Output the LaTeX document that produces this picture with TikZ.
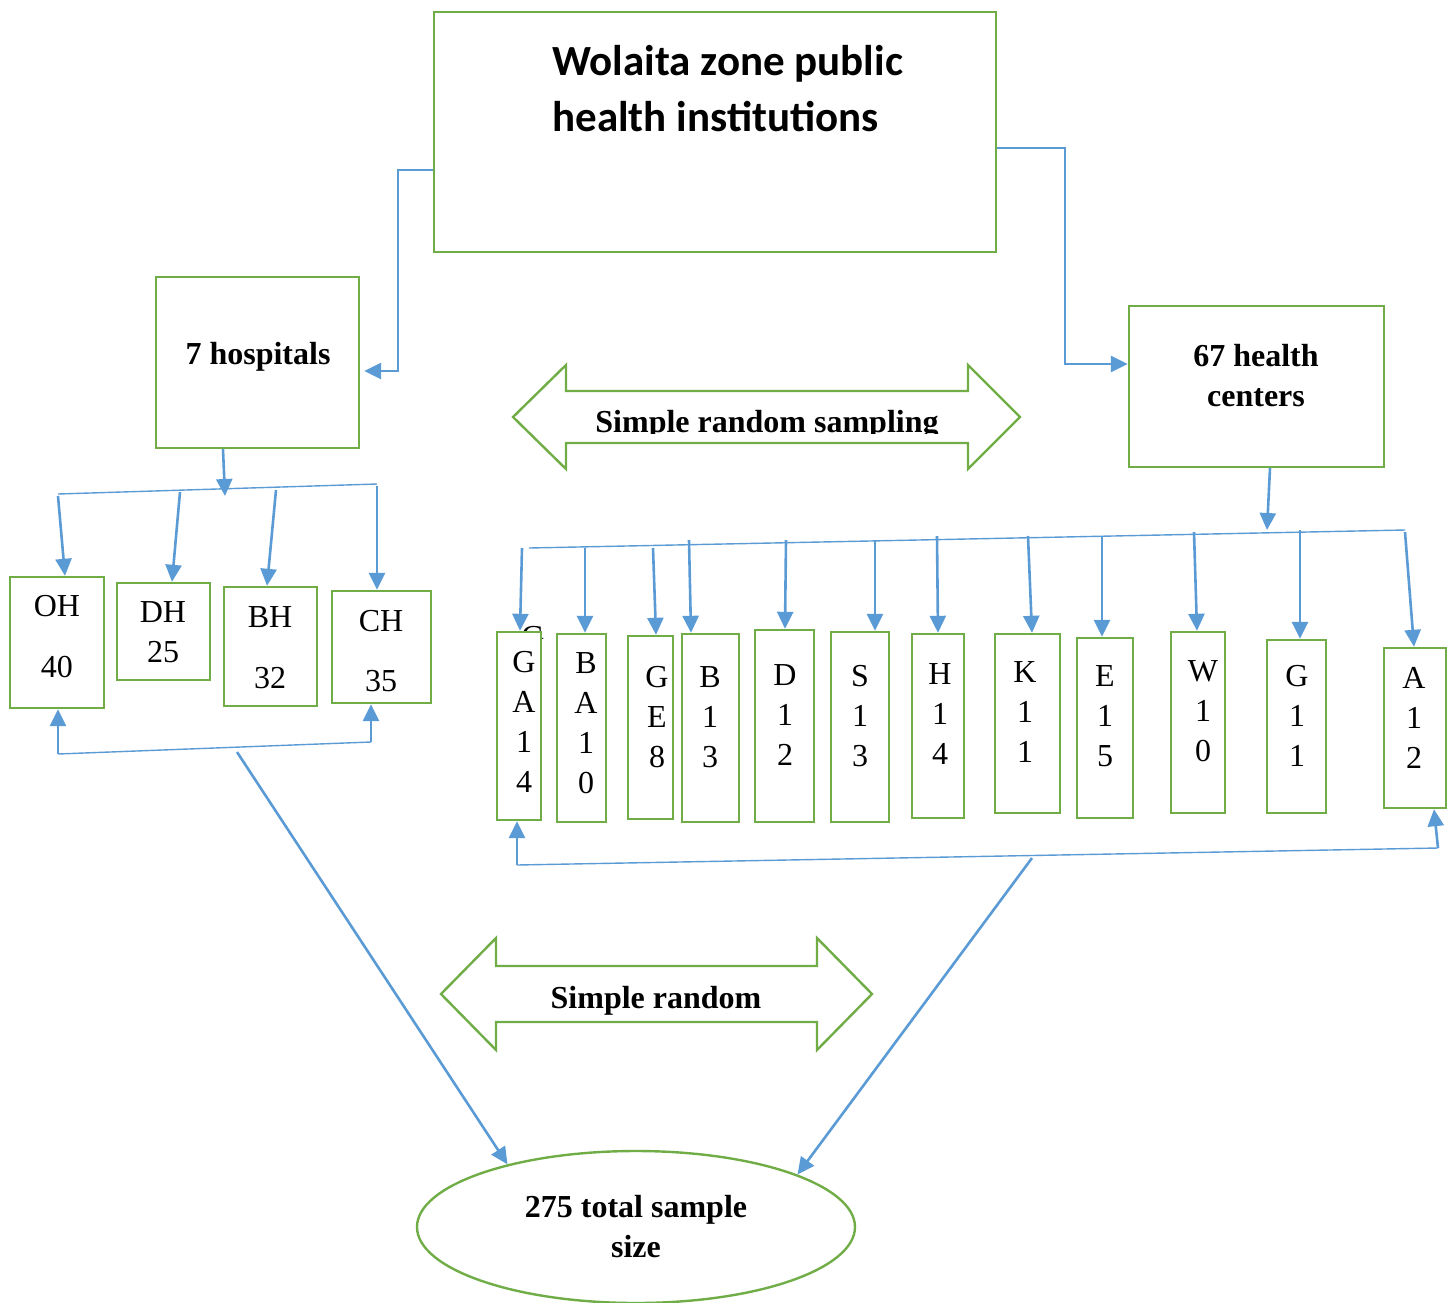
\documentclass[tikz,border=0pt]{standalone}
\usepackage{fontspec}
\setmainfont{Liberation Serif}
\newfontfamily\calibri{Carlito}
\usetikzlibrary{arrows.meta, shapes.geometric}

\definecolor{boxgreen}{RGB}{112,173,71}
\definecolor{arrowblue}{RGB}{91,155,213}

\tikzset{
    box/.style={draw=boxgreen, line width=1.2pt, rectangle, fill=white, inner sep=0pt},
    conn/.style={draw=arrowblue, line width=1.3pt, -{Triangle[length=8.5pt,width=8pt]}},
    bracket/.style={draw=arrowblue, line width=0.7pt},
    lbl/.style={font=\fontsize{16pt}{20pt}\selectfont, align=center, inner sep=0pt},
    blbl/.style={lbl, font=\fontsize{16pt}{20pt}\selectfont\bfseries},
    bigarrow/.style={draw=boxgreen, line width=1.2pt, line join=miter},
}

\begin{document}
\begin{tikzpicture}[x=0.5pt, y=-0.5pt]
    \useasboundingbox (0,0) rectangle (1452,1302);

    % Top level boxes
    \node[box, minimum width=281pt, minimum height=120pt] (zone) at (715,132) {};
    \node[anchor=west, inner sep=0pt, align=left, font=\fontsize{21.5pt}{28pt}\calibri\bfseries] (zonetext) at (552,89) {Wolaita zone public\\health institutions};
    \node[box, minimum width=101.5pt, minimum height=85.5pt] (hosp) at (257.5,362.5) {};
    \node[blbl, anchor=base] (hosptext) at (258,364) {7 hospitals};
    \node[box, minimum width=127.5pt, minimum height=80.5pt] (hc) at (1256.5,386.5) {};
    \node[blbl] (hctext) at (1256,376) {67 health\\centers};

    \draw[conn, shorten >=2pt] (zone.west |- 0,170) -- (398,170) -- (398,371) -- (hosp.east |- 0,371);
    \draw[conn] (zone.east |- 0,148) -- (1065,148) -- (1065,364) -- (hc.west |- 0,364);

    % Double arrows
    \draw[bigarrow] (513,417) -- (566,365) -- (566,391) -- (968,391) -- (968,365) -- (1020,417)
        -- (968,469) -- (968,443) -- (566,443) -- (566,469) -- cycle;
    \begin{scope}
        \clip (513,350) rectangle (1020,433);
        \node[blbl, anchor=base] (srs) at (767,432) {Simple random sampling};
    \end{scope}
    \draw[bigarrow] (441,994) -- (496,938) -- (496,966) -- (817,966) -- (817,938) -- (872,994)
        -- (817,1050) -- (817,1022) -- (496,1022) -- (496,1050) -- cycle;
    \node[blbl, anchor=base] (sr) at (656,1008) {Simple random};

    % Hospitals
    \foreach \nm/\cx/\cy/\w/\h/\txt/\tx/\ty/\bs in {
        oh/57/642.5/94/131/{OH\\40}/57/636.5/30.5,
        dh/163.5/631.5/93/97/{DH\\25}/163/632/20,
        bh/270.5/646.5/93/119/{BH\\32}/270/647.5/30.5,
        ch/381.5/647/99/112/{CH\\35}/381/651/30} {
        \node[box, minimum width=\w*0.5pt, minimum height=\h*0.5pt] (\nm) at (\cx,\cy) {};
        \node[lbl, font=\fontsize{16pt}{\bs pt}\selectfont] (\nm-text) at (\tx,\ty) {\txt};
    }
    \coordinate (hjoin) at (225,496);
    \draw[conn] (hosp.south -| 223,0) -- (hjoin);
    \coordinate (hl) at (58,494);
    \coordinate (hr) at (377,484);
    \draw[bracket] (hl) -- (hr);
    \foreach \nm/\sx/\sy/\ex in {oh/58/496/65, dh/180/492/172, bh/276/490/267, ch/377/486/377} {
        \coordinate (\nm-top) at (\sx,\sy);
        \draw[conn] (\nm-top) -- (\nm.north -| \ex,0);
    }
    \coordinate (hbl) at (58,754);
    \coordinate (hbr) at (371,742);
    \draw[bracket] (hbl) -- (hbr);
    \draw[conn] (hbl) -- (oh.south -| hbl);
    \draw[conn] (hbr) -- (ch.south -| hbr);

    % Health centers
    \node[lbl] (gpeek) at (533,637) {G};
    \foreach \nm/\cx/\cy/\w/\h/\txt/\tx/\ty in {
        ga/519/726/44/188/{G\\A\\1\\4}/524/721.5,
        ba/581.5/728/49/188/{B\\A\\1\\0}/586/723.5,
        ge/650.5/727.5/45/183/{G\\E\\8}/657/717,
        bt/710.5/728/57/188/{B\\1\\3}/710/717,
        dt/784.5/726/59/192/{D\\1\\2}/785/715,
        st/860/727/58/190/{S\\1\\3}/860/716,
        ht/938/726/52/184/{H\\1\\4}/940/714,
        kt/1027.5/723.5/65/179/{K\\1\\1}/1025/712,
        et/1105/728/56/180/{E\\1\\5}/1105/716,
        wt/1198/722.5/54/181/{W\\1\\0}/1203/711,
        gt/1296.5/726.5/59/173/{G\\1\\1}/1297/716,
        at/1415/728/62/160/{A\\1\\2}/1414/718} {
        \node[box, minimum width=\w*0.5pt, minimum height=\h*0.5pt] (\nm) at (\cx,\cy) {};
        \node[lbl] (\nm-text) at (\tx,\ty) {\txt};
    }
    \coordinate (cjoin) at (1267,530);
    \draw[conn] (hc.south -| 1270,0) -- (cjoin);
    \coordinate (cl) at (529,548);
    \coordinate (cr) at (1405,530);
    \draw[bracket] (cl) -- (cr);
    \foreach \nm/\sx/\sy/\ex in {ga/522/548/520, ba/585/548/585, ge/653/548/656, bt/689/540/691,
        dt/786/540/785, st/875/540/875, ht/937/536/938, kt/1028/536/1032, et/1102/536/1102,
        wt/1194/532/1197, gt/1300/530/1300, at/1405/532/1414} {
        \coordinate (\nm-top) at (\sx,\sy);
        \draw[conn] (\nm-top) -- (\nm.north -| \ex,0);
    }
    \coordinate (cbl) at (517,865);
    \coordinate (cbr) at (1438,848);
    \draw[bracket] (cbl) -- (cbr);
    \draw[conn] (cbl) -- (ga.south -| cbl);
    \draw[conn] (cbr) -- (at.south -| 1434,0);

    % Total
    \node[draw=boxgreen, line width=1.2pt, ellipse, minimum width=219pt, minimum height=76pt, blbl] (total) at (636,1227) {275 total sample\\size};
    \coordinate (hspread) at (237,752);
    \coordinate (cspread) at (1032,858);
    \draw[conn] (hspread) -- (total.154);
    \draw[conn] (cspread) -- (total.18);
\end{tikzpicture}
\end{document}
